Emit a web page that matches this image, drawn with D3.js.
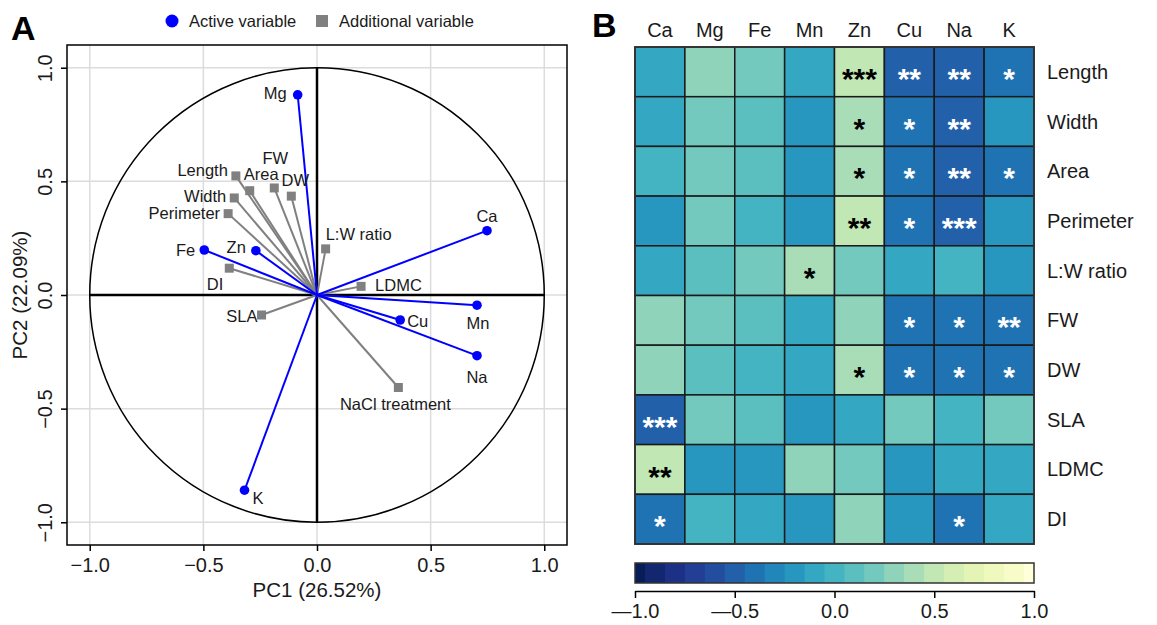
<!DOCTYPE html>
<html><head><meta charset="utf-8">
<script src="https://cdn.jsdelivr.net/npm/d3@7"></script>
<style>
body{margin:0;background:#fff}
svg{display:block;font-family:"Liberation Sans",Arial,Helvetica,sans-serif}
</style>
</head><body>
<svg id="chart" width="1157" height="625"></svg>
<script>
// ---------- Panel A data (PCA variable loadings) ----------
const activeNames = ["Mg","Ca","Fe","Zn","Mn","Cu","Na","K"];
const activePC1   = [-0.085, 0.748, -0.496, -0.269, 0.704, 0.366, 0.704, -0.319];
const activePC2   = [ 0.881, 0.283,  0.198,  0.195, -0.045, -0.110, -0.267, -0.859];

const addNames = ["Length","Area","FW","DW","Width","Perimeter","DI","SLA","L:W ratio","LDMC","NaCl treatment"];
const addPC1   = [-0.357, -0.296, -0.188, -0.113, -0.364, -0.391, -0.386, -0.244, 0.038, 0.194, 0.358];
const addPC2   = [ 0.524,  0.459,  0.471,  0.435,  0.427,  0.358,  0.118, -0.088, 0.203, 0.038, -0.407];

const axisTicks = [-1, -0.5, 0, 0.5, 1];
const pc1Label = "PC1 (26.52%)";
const pc2Label = "PC2 (22.09%)";
const legendLabels = ["Active variable", "Additional variable"];

// ---------- Panel B data (correlation matrix) ----------
const elements = ["Ca","Mg","Fe","Mn","Zn","Cu","Na","K"];
const traits = ["Length","Width","Area","Perimeter","L:W ratio","FW","DW","SLA","LDMC","DI"];
const corrLength    = [-0.1, 0.3, 0.2, -0.1, 0.5, -0.5, -0.5, -0.4];
const corrWidth     = [-0.1, 0.2, 0.1, -0.2, 0.4, -0.4, -0.5, -0.2];
const corrArea      = [ 0.0, 0.2, 0.1, -0.2, 0.4, -0.4, -0.5, -0.4];
const corrPerimeter = [-0.2, 0.2, 0.0, -0.2, 0.5, -0.4, -0.5, -0.2];
const corrLW        = [-0.1, 0.1, 0.2,  0.4, 0.2, -0.1,  0.0, -0.2];
const corrFW        = [ 0.3, 0.2, 0.1, -0.1, 0.3, -0.4, -0.4, -0.4];
const corrDW        = [ 0.3, 0.1, 0.0, -0.1, 0.4, -0.4, -0.4, -0.4];
const corrSLA       = [-0.5, 0.2, 0.1, -0.2, -0.1, 0.2,  0.0,  0.2];
const corrLDMC      = [ 0.5, -0.2, -0.2, 0.3, 0.2, -0.2, -0.1, -0.1];
const corrDI        = [-0.4, 0.0, -0.1, -0.2, 0.3, -0.2, -0.4, -0.1];

const sigLength    = ["","","","","***","**","**","*"];
const sigWidth     = ["","","","","*","*","**",""];
const sigArea      = ["","","","","*","*","**","*"];
const sigPerimeter = ["","","","","**","*","***",""];
const sigLW        = ["","","","*","","","",""];
const sigFW        = ["","","","","","*","*","**"];
const sigDW        = ["","","","","*","*","*","*"];
const sigSLA       = ["***","","","","","","",""];
const sigLDMC      = ["**","","","","","","",""];
const sigDI        = ["*","","","","","","*",""];

const colorbarTicks = [-1, -0.5, 0, 0.5, 1];

// label placement (pixel offsets from the point) for panel A
const labelPlace = {
  "Mg":[-11,4,"end"], "Ca":[0,-9,"middle"], "Fe":[-9,6,"end"], "Zn":[-10,2,"end"],
  "Mn":[1,24,"middle"], "Cu":[7,7,"start"], "Na":[0,27,"middle"], "K":[8,14,"start"],
  "Length":[-8,0,"end"], "Area":[-6,-11,"start"], "FW":[1,-24,"middle"], "DW":[4,-10,"middle"],
  "Width":[-8,4,"end"], "Perimeter":[-8,5,"end"], "DI":[-6,22,"end"], "SLA":[-4,7,"end"],
  "L:W ratio":[0,-9,"start"], "LDMC":[14,5,"start"], "NaCl treatment":[-3,22,"middle"]
};

// ---------- build ----------
const svg = d3.select("#chart");
const BLUE = "#0000ff", GREY = "#808080", TXT = "#1a1a1a";

// Panel letters
svg.append("text").attr("x", 11).attr("y", 40).attr("font-size", 34).attr("font-weight", "bold").text("A");
svg.append("text").attr("x", 592).attr("y", 37).attr("font-size", 34).attr("font-weight", "bold").text("B");

// Legend
svg.append("circle").attr("cx", 172).attr("cy", 21).attr("r", 6.5).attr("fill", BLUE);
svg.append("text").attr("x", 189).attr("y", 27).attr("font-size", 16.5).attr("fill", TXT).text(legendLabels[0]);
svg.append("rect").attr("x", 316).attr("y", 15).attr("width", 12).attr("height", 12).attr("fill", GREY);
svg.append("text").attr("x", 339).attr("y", 27).attr("font-size", 16.5).attr("fill", TXT).text(legendLabels[1]);

// Panel A scales
const L = 67, R = 567, T = 45, B = 545;
const x = d3.scaleLinear().domain([-1.1, 1.1]).range([L, R]);
const y = d3.scaleLinear().domain([-1.1, 1.1]).range([B, T]);

const gA = svg.append("g");
// grid
gA.append("g").selectAll("line").data(axisTicks).join("line")
  .attr("x1", d => x(d)).attr("x2", d => x(d)).attr("y1", T).attr("y2", B)
  .attr("stroke", "#dcdcdc").attr("stroke-width", 1.5);
gA.append("g").selectAll("line").data(axisTicks).join("line")
  .attr("y1", d => y(d)).attr("y2", d => y(d)).attr("x1", L).attr("x2", R)
  .attr("stroke", "#dcdcdc").attr("stroke-width", 1.5);

// unit circle
gA.append("circle").attr("cx", x(0)).attr("cy", y(0)).attr("r", x(1) - x(0))
  .attr("fill", "none").attr("stroke", "#000").attr("stroke-width", 1.5);
// axes through origin
gA.append("line").attr("x1", x(-1)).attr("x2", x(1)).attr("y1", y(0)).attr("y2", y(0))
  .attr("stroke", "#000").attr("stroke-width", 2.5);
gA.append("line").attr("x1", x(0)).attr("x2", x(0)).attr("y1", y(-1)).attr("y2", y(1))
  .attr("stroke", "#000").attr("stroke-width", 2.5);

const addData = addNames.map((n, i) => ({name: n, px: addPC1[i], py: addPC2[i]}));
const actData = activeNames.map((n, i) => ({name: n, px: activePC1[i], py: activePC2[i]}));

// grey arrows
gA.append("g").selectAll("line").data(addData).join("line")
  .attr("x1", x(0)).attr("y1", y(0)).attr("x2", d => x(d.px)).attr("y2", d => y(d.py))
  .attr("stroke", GREY).attr("stroke-width", 2);
// blue arrows
gA.append("g").selectAll("line").data(actData).join("line")
  .attr("x1", x(0)).attr("y1", y(0)).attr("x2", d => x(d.px)).attr("y2", d => y(d.py))
  .attr("stroke", BLUE).attr("stroke-width", 2);
// markers
gA.append("g").selectAll("rect").data(addData).join("rect")
  .attr("x", d => x(d.px) - 4.5).attr("y", d => y(d.py) - 4.5).attr("width", 9).attr("height", 9)
  .attr("fill", GREY);
gA.append("g").selectAll("circle").data(actData).join("circle")
  .attr("cx", d => x(d.px)).attr("cy", d => y(d.py)).attr("r", 4.8).attr("fill", BLUE);
// labels
gA.append("g").selectAll("text").data(addData.concat(actData)).join("text")
  .attr("x", d => x(d.px) + labelPlace[d.name][0])
  .attr("y", d => y(d.py) + labelPlace[d.name][1])
  .attr("text-anchor", d => labelPlace[d.name][2])
  .attr("font-size", 16.5).attr("fill", TXT).text(d => d.name);

// box
gA.append("rect").attr("x", L).attr("y", T).attr("width", R - L).attr("height", B - T)
  .attr("fill", "none").attr("stroke", "#000").attr("stroke-width", 1.5);

// x axis
const xAx = gA.append("g").attr("transform", `translate(0,${B})`)
  .call(d3.axisBottom(x).tickValues(axisTicks).tickFormat(d3.format(".1f")).tickSize(6).tickPadding(7));
xAx.select(".domain").remove();
xAx.selectAll("line").attr("stroke", "#000").attr("stroke-width", 1.5);
xAx.selectAll("text").attr("font-size", 20).attr("fill", TXT).attr("font-family", null);
// y axis
const yAx = gA.append("g").attr("transform", `translate(${L},0)`)
  .call(d3.axisLeft(y).tickValues(axisTicks).tickFormat(d3.format(".1f")).tickSize(6));
yAx.select(".domain").remove();
yAx.selectAll("line").attr("stroke", "#000").attr("stroke-width", 1.5);
yAx.selectAll("text").attr("font-size", 20).attr("fill", TXT).attr("font-family", null)
  .attr("x", 0).attr("dy", 0).attr("text-anchor", "middle")
  .attr("transform", "translate(-15,0) rotate(-90)");

gA.append("text").attr("x", x(0)).attr("y", 597).attr("text-anchor", "middle")
  .attr("font-size", 20.5).attr("fill", TXT).text(pc1Label);
gA.append("text").attr("transform", `translate(27,${y(0)}) rotate(-90)`).attr("text-anchor", "middle")
  .attr("font-size", 20.5).attr("fill", TXT).text(pc2Label);

// ---------- Panel B ----------
const corr = [corrLength, corrWidth, corrArea, corrPerimeter, corrLW, corrFW, corrDW, corrSLA, corrLDMC, corrDI];
const sig  = [sigLength, sigWidth, sigArea, sigPerimeter, sigLW, sigFW, sigDW, sigSLA, sigLDMC, sigDI];
const cells = [];
traits.forEach((t, i) => elements.forEach((e, j) => cells.push({t, e, v: corr[i][j], s: sig[i][j]})));

const HL = 635, HR = 1034, HT = 47, HB = 544;
const hx = d3.scaleBand().domain(elements).range([HL, HR]);
const hy = d3.scaleBand().domain(traits).range([HT, HB]);
const colorSeq = d3.scaleSequential(d3.interpolateYlGnBu).domain([1, -1]);
const step = v => Math.round(v * 10) / 10;
const color = v => colorSeq(step(v));

const gB = svg.append("g");
gB.append("g").selectAll("rect").data(cells).join("rect")
  .attr("x", d => hx(d.e)).attr("y", d => hy(d.t))
  .attr("width", hx.bandwidth()).attr("height", hy.bandwidth())
  .attr("fill", d => color(d.v)).attr("stroke", "#1a1a1a").attr("stroke-width", 1.5);
gB.append("rect").attr("x", HL).attr("y", HT).attr("width", HR - HL).attr("height", HB - HT)
  .attr("fill", "none").attr("stroke", "#333").attr("stroke-width", 1.8);

const starFs = 30;
gB.append("g").selectAll("text").data(cells.filter(d => d.s)).join("text")
  .attr("x", d => hx(d.e) + hx.bandwidth() / 2)
  .attr("y", d => hy(d.t) + hy.bandwidth() / 2 + starFs * 0.57)
  .attr("text-anchor", "middle").attr("font-size", starFs).attr("font-weight", "bold")
  .attr("fill", d => d.v < 0 ? "#fff" : "#000").text(d => d.s);

gB.append("g").selectAll("text").data(elements).join("text")
  .attr("x", d => hx(d) + hx.bandwidth() / 2).attr("y", 37)
  .attr("text-anchor", "middle").attr("font-size", 20).attr("fill", TXT).text(d => d);
gB.append("g").selectAll("text").data(traits).join("text")
  .attr("x", 1047).attr("y", d => hy(d) + hy.bandwidth() / 2 + 7)
  .attr("font-size", 20).attr("fill", TXT).text(d => d);

// colorbar
const cb = d3.scaleLinear().domain([-1, 1]).range([HL, HR]);
const cbSteps = d3.range(-10, 11).map(i => i / 10);
const CT = 563, CH = 20;
gB.append("g").selectAll("rect").data(cbSteps).join("rect")
  .attr("x", d => cb(Math.max(-1, d - 0.05))).attr("y", CT)
  .attr("width", d => cb(Math.min(1, d + 0.05)) - cb(Math.max(-1, d - 0.05)) + 0.5)
  .attr("height", CH).attr("fill", d => colorSeq(d));
gB.append("rect").attr("x", HL).attr("y", CT).attr("width", HR - HL).attr("height", CH)
  .attr("fill", "none").attr("stroke", "#333").attr("stroke-width", 1.5);
const cAx = gB.append("g").attr("transform", "translate(0,591)")
  .call(d3.axisBottom(cb).tickValues(colorbarTicks).tickSize(7).tickSizeOuter(0).tickPadding(6)
    .tickFormat(d => (d < 0 ? "\u2014" : "") + Math.abs(d).toFixed(1)));
cAx.selectAll("line, path").attr("stroke", "#000").attr("stroke-width", 1.5);
cAx.selectAll("text").attr("font-size", 20).attr("fill", TXT).attr("font-family", null);
</script>
</body></html>
